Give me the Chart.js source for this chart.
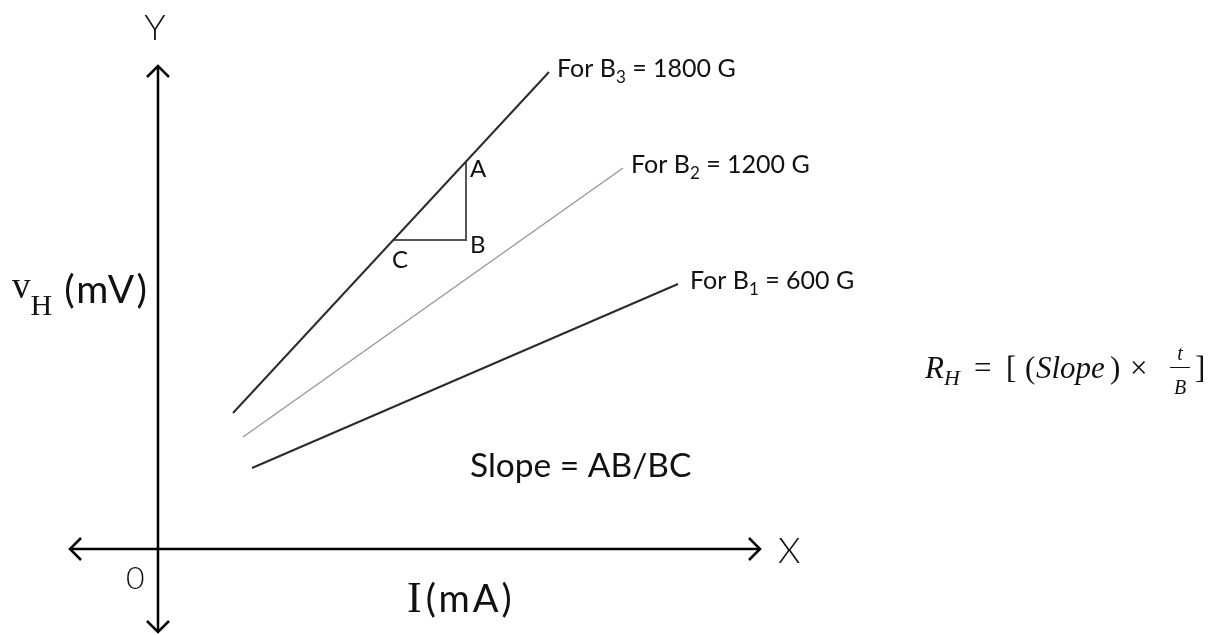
<!DOCTYPE html>
<html>
<head>
<meta charset="utf-8">
<title>Hall voltage vs current</title>
<script src="https://cdn.jsdelivr.net/npm/chart.js@4.4.0/dist/chart.umd.min.js"></script>
<style>
  html, body { margin: 0; padding: 0; background: #fff; }
  canvas { display: block; }
</style>
</head>
<body>
<canvas id="hallChart" width="1215" height="635"></canvas>
<script>
// --- data (arbitrary units, origin at axis crossing) ---
const currentB3 = [7.5, 39.1];
const voltageB3 = [13.6, 47.7];
const currentB2 = [8.5, 46.5];
const voltageB2 = [11.2, 38.1];
const currentB1 = [9.4, 52.0];
const voltageB1 = [8.1, 26.5];

// triangle A -> B -> C on the B3 line
const triangleX = [30.8, 30.8, 23.5];
const triangleY = [38.7, 30.9, 30.9];
const triangleNames = ['A', 'B', 'C'];

// axes extent
const xAxisRange = [-8.8, 60.2];
const yAxisRange = [-8.3, 48.3];

// label texts
const fieldNames = ['1', '2', '3'];
const fieldValues = ['600 G', '1200 G', '1800 G'];

// view window (10 px per unit)
const PX = 10;
const ORIGIN_X = 158, ORIGIN_Y = 549;
const W = 1215, H = 635;

function toPoints(xs, ys) {
    return xs.map((x, i) => ({ x: x, y: ys[i] }));
}

const sansFont = 'Lato, "Open Sans", sans-serif';
const serifFont = '"Liberation Serif", "DejaVu Serif", serif';

// draws text pieces one after another, y is the baseline
function drawRich(ctx, x, y, parts) {
    let cx = x;
    parts.forEach(p => {
        ctx.font = p.font;
        ctx.letterSpacing = p.ls || '0px';
        ctx.fillStyle = p.color || '#111';
        cx += p.gap || 0;
        ctx.fillText(p.t, cx, y + (p.dy || 0));
        cx += ctx.measureText(p.t).width;
    });
    ctx.letterSpacing = '0px';
    return cx;
}

function arrowHead(ctx, tx, ty, dir) {
    // open chevron arrow head
    const s = 11;
    ctx.beginPath();
    if (dir === 'up')    { ctx.moveTo(tx - s, ty + s); ctx.lineTo(tx, ty); ctx.lineTo(tx + s, ty + s); }
    if (dir === 'down')  { ctx.moveTo(tx - s, ty - s); ctx.lineTo(tx, ty); ctx.lineTo(tx + s, ty - s); }
    if (dir === 'left')  { ctx.moveTo(tx + s, ty - s); ctx.lineTo(tx, ty); ctx.lineTo(tx + s, ty + s); }
    if (dir === 'right') { ctx.moveTo(tx - s, ty - s); ctx.lineTo(tx, ty); ctx.lineTo(tx - s, ty + s); }
    ctx.stroke();
}

const annotationPlugin = {
    id: 'hallAnnotations',
    afterDatasetsDraw(chart) {
        const ctx = chart.ctx;
        const xs = chart.scales.x, ys = chart.scales.y;
        const px = v => xs.getPixelForValue(v);
        const py = v => ys.getPixelForValue(v);

        ctx.save();
        ctx.textBaseline = 'alphabetic';
        ctx.textAlign = 'left';

        // arrow heads
        ctx.strokeStyle = '#000';
        ctx.lineWidth = 2.5;
        arrowHead(ctx, px(0), py(yAxisRange[1]), 'up');
        arrowHead(ctx, px(0), py(yAxisRange[0]), 'down');
        arrowHead(ctx, px(xAxisRange[0]), py(0), 'left');
        arrowHead(ctx, px(xAxisRange[1]), py(0), 'right');

        // axis letters
        ctx.fillStyle = '#111';
        ctx.font = '300 36px ' + sansFont;
        ctx.textAlign = 'center';
        ctx.fillText('Y', px(0) - 3, py(yAxisRange[1]) - 26);
        ctx.textAlign = 'left';
        ctx.fillText('X', px(xAxisRange[1]) + 18, py(0) + 14);
        ctx.font = '300 32px ' + sansFont;
        ctx.fillText('0', px(0) - 32, py(0) + 40);

        // axis titles
        drawRich(ctx, 407, 612, [
            { t: 'I', font: '44px ' + serifFont },
            { t: '(mA)', font: '38px ' + sansFont, gap: 4, ls: '3px' }
        ]);
        drawRich(ctx, 12, 298, [
            { t: 'v', font: '37px ' + serifFont },
            { t: 'H', font: '30px ' + serifFont, dy: 17 },
            { t: '(mV)', font: '39px ' + sansFont, gap: 12, ls: '2px', dy: 5 }
        ]);

        // line labels at upper ends
        const ends = [
            [currentB1[1], voltageB1[1]],
            [currentB2[1], voltageB2[1]],
            [currentB3[1], voltageB3[1]]
        ];
        const offsets = [12, 8, 8];
        ends.forEach((e, i) => {
            const x0 = px(e[0]) + offsets[i];
            const y0 = py(e[1]) + 5;
            drawRich(ctx, x0, y0, [
                { t: 'For B', font: '25px ' + sansFont },
                { t: fieldNames[i], font: '17px ' + sansFont, dy: 6 },
                { t: ' = ' + fieldValues[i], font: '25px ' + sansFont }
            ]);
        });

        // triangle letters
        ctx.font = '24px ' + sansFont;
        ctx.fillStyle = '#111';
        ctx.fillText(triangleNames[0], px(triangleX[0]) + 4, py(triangleY[0]) + 15);
        ctx.fillText(triangleNames[1], px(triangleX[1]) + 4, py(triangleY[1]) + 13);
        ctx.fillText(triangleNames[2], px(triangleX[2]) - 1, py(triangleY[2]) + 28);

        // slope text
        ctx.font = '33.5px ' + sansFont;
        ctx.fillText('Slope = AB/BC', 470, 477);

        // formula R_H = [ (Slope) x t/B ]
        const fItal = 'italic 31px ' + serifFont;
        const fNorm = '31px ' + serifFont;
        const base = 378;
        ctx.fillStyle = '#111';
        ctx.font = fItal; ctx.fillText('R', 925, base);
        ctx.font = 'italic 22px ' + serifFont; ctx.fillText('H', 944, base + 7);
        ctx.font = fNorm;
        ctx.fillText('=', 974, base);
        ctx.fillText('[', 1006, base);
        ctx.fillText('(', 1025, base);
        ctx.font = fItal; ctx.fillText('Slope', 1036, base);
        ctx.font = fNorm;
        ctx.fillText(')', 1110, base);
        ctx.fillText('×', 1130, base);
        ctx.font = 'italic 20px ' + serifFont;
        ctx.textAlign = 'center';
        ctx.fillText('t', 1180, 360);
        ctx.fillText('B', 1180, 394);
        ctx.strokeStyle = '#111';
        ctx.lineWidth = 1;
        ctx.beginPath();
        ctx.moveTo(1170, 367.5);
        ctx.lineTo(1190, 367.5);
        ctx.stroke();
        ctx.textAlign = 'left';
        ctx.font = fNorm;
        ctx.fillText(']', 1195, base);

        ctx.restore();
    }
};

const ctx = document.getElementById('hallChart').getContext('2d');

new Chart(ctx, {
    type: 'scatter',
    data: {
        datasets: [
            { label: 'x axis', data: toPoints(xAxisRange, [0, 0]), showLine: true, borderColor: '#000', borderWidth: 2.5, pointRadius: 0 },
            { label: 'y axis', data: toPoints([0, 0], yAxisRange), showLine: true, borderColor: '#000', borderWidth: 2.5, pointRadius: 0 },
            { label: 'B3 = 1800 G', data: toPoints(currentB3, voltageB3), showLine: true, borderColor: '#2b2b2b', borderWidth: 2, pointRadius: 0 },
            { label: 'B2 = 1200 G', data: toPoints(currentB2, voltageB2), showLine: true, borderColor: '#9a9a9a', borderWidth: 1.5, pointRadius: 0 },
            { label: 'B1 = 600 G', data: toPoints(currentB1, voltageB1), showLine: true, borderColor: '#2b2b2b', borderWidth: 2, pointRadius: 0 },
            { label: 'triangle', data: toPoints(triangleX, triangleY), showLine: true, borderColor: '#555', borderWidth: 2, pointRadius: 0 }
        ]
    },
    options: {
        responsive: false,
        maintainAspectRatio: false,
        animation: false,
        layout: { padding: 0 },
        plugins: {
            legend: { display: false },
            tooltip: { enabled: false },
            title: { display: false }
        },
        scales: {
            x: { type: 'linear', display: false, min: -ORIGIN_X / PX, max: (W - ORIGIN_X) / PX },
            y: { type: 'linear', display: false, min: -(H - ORIGIN_Y) / PX, max: ORIGIN_Y / PX }
        }
    },
    plugins: [annotationPlugin]
});
</script>
</body>
</html>
